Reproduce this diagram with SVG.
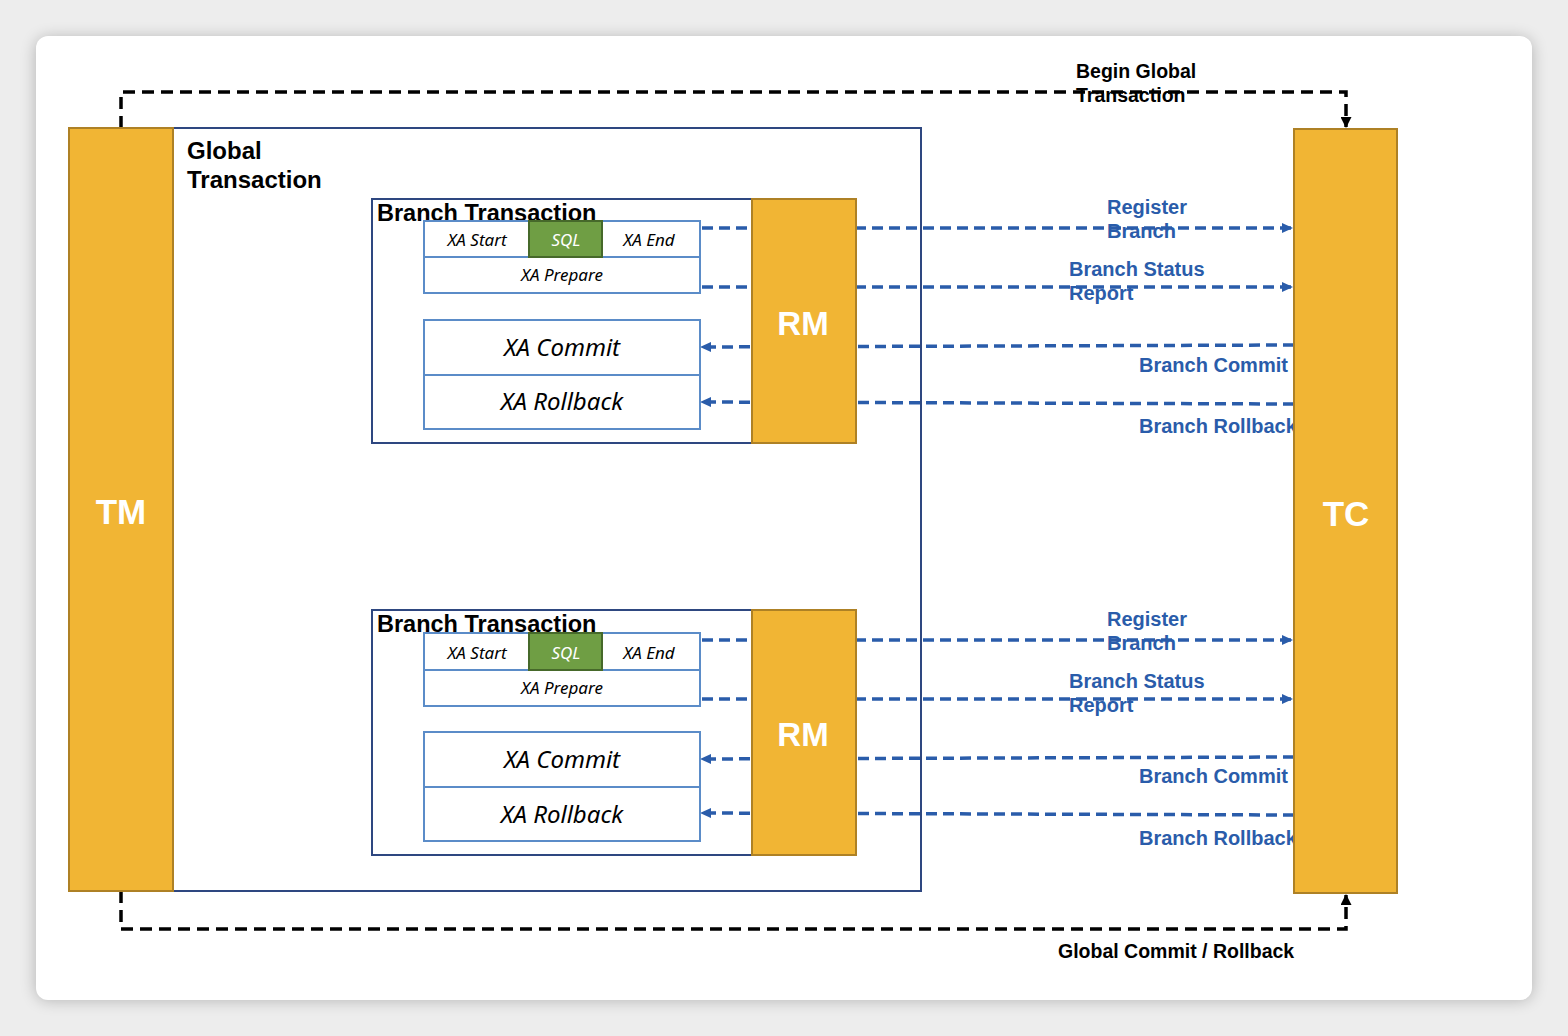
<svg xmlns="http://www.w3.org/2000/svg" width="1568" height="1036" viewBox="0 0 1568 1036">
<defs>
<filter id="sh" x="-5%" y="-5%" width="110%" height="110%"><feGaussianBlur stdDeviation="8"/></filter>
<marker id="ab" markerWidth="11" markerHeight="10" refX="10" refY="5" orient="auto" markerUnits="userSpaceOnUse"><path d="M0,0 L11,5 L0,10 z" fill="#2A5CAA"/></marker>
<marker id="ak" markerWidth="11" markerHeight="11" refX="10" refY="5.5" orient="auto" markerUnits="userSpaceOnUse"><path d="M0,0 L11,5.5 L0,11 z" fill="#000"/></marker>
<style>
.bar{fill:#F1B534;stroke:#AE8125;stroke-width:2}
.frame{fill:none;stroke:#2E4780;stroke-width:2}
.cell{fill:#fff;stroke:#5B8CC8;stroke-width:2}
.sql{fill:#6F9E44;stroke:#46692A;stroke-width:2}
.big{font-family:"Liberation Sans",Arial,sans-serif;font-weight:bold;fill:#fff;text-anchor:middle}
.title{font-family:"Liberation Sans",Arial,sans-serif;font-weight:bold;fill:#000}
.xa{font-family:"Noto Sans","Open Sans",sans-serif;font-style:italic;fill:#000;text-anchor:middle}
.lbl{font-family:"Liberation Sans",Arial,sans-serif;font-weight:bold;fill:#2A5CAA;font-size:20px}
.blab{font-family:"Liberation Sans",Arial,sans-serif;font-weight:bold;fill:#000;font-size:19.5px}
.bd{fill:none;stroke:#2A5CAA;stroke-width:3.5;stroke-dasharray:11,6}
.kd{fill:none;stroke:#000;stroke-width:3.5;stroke-dasharray:12,7}
</style>
</defs>
<rect width="1568" height="1036" fill="#EDEDED"/>
<rect x="36" y="38" width="1496" height="962" rx="12" fill="#000" opacity="0.25" filter="url(#sh)"/>
<rect x="36" y="36" width="1496" height="964" rx="12" fill="#fff"/>

<g id="connectors">
<path class="kd" d="M121,128 V92 H1346 V127" marker-end="url(#ak)"/>
<path class="kd" d="M121,891 V929 H1346 V895" marker-end="url(#ak)"/>
<text class="blab" x="1076" y="78">Begin Global</text>
<text class="blab" x="1076" y="102">Transaction</text>
<text class="blab" x="1058" y="958">Global Commit / Rollback</text>

<path class="bd" d="M702,228 H1292" marker-end="url(#ab)"/>
<path class="bd" d="M702,287 H1292" marker-end="url(#ab)"/>
<path class="bd" d="M1294,345 L701,347" marker-end="url(#ab)"/>
<path class="bd" d="M1294,404 L701,402" marker-end="url(#ab)"/>
<text class="lbl" x="1107" y="214">Register</text>
<text class="lbl" x="1107" y="238">Branch</text>
<text class="lbl" x="1069" y="276">Branch Status</text>
<text class="lbl" x="1069" y="300">Report</text>
<text class="lbl" x="1139" y="372">Branch Commit</text>
<text class="lbl" x="1139" y="433">Branch Rollback</text>

<path class="bd" d="M702,640 H1292" marker-end="url(#ab)"/>
<path class="bd" d="M702,699 H1292" marker-end="url(#ab)"/>
<path class="bd" d="M1294,757 L701,759" marker-end="url(#ab)"/>
<path class="bd" d="M1294,815 L701,813" marker-end="url(#ab)"/>
<text class="lbl" x="1107" y="626">Register</text>
<text class="lbl" x="1107" y="650">Branch</text>
<text class="lbl" x="1069" y="688">Branch Status</text>
<text class="lbl" x="1069" y="712">Report</text>
<text class="lbl" x="1139" y="783">Branch Commit</text>
<text class="lbl" x="1139" y="845">Branch Rollback</text>
</g>

<g id="global-transaction">
<rect class="frame" x="173" y="128" width="748" height="763"/>
<text class="title" font-size="24" x="187" y="159">Global</text>
<text class="title" font-size="24" x="187" y="188">Transaction</text>
</g>

<g id="tm"><rect class="bar" x="69" y="128" width="104" height="763"/><text class="big" font-size="35" x="121" y="524">TM</text></g>
<g id="tc"><rect class="bar" x="1294" y="129" width="103" height="764"/><text class="big" font-size="35" x="1346" y="526">TC</text></g>

<g id="branch1">
<rect class="frame" x="372" y="199" width="380" height="244"/>
<text class="title" font-size="23.5" x="377" y="221">Branch Transaction</text>
<rect class="cell" x="424" y="221" width="276" height="72"/>
<line class="cell" x1="424" y1="257" x2="700" y2="257"/>
<rect class="sql" x="529" y="221" width="73" height="36"/>
<text class="xa" font-size="17" x="477" y="246">XA Start</text>
<text class="xa" font-size="17" x="566" y="246" style="fill:#fff">SQL</text>
<text class="xa" font-size="17" x="649" y="246">XA End</text>
<text class="xa" font-size="17" x="562" y="281">XA Prepare</text>
<rect class="cell" x="424" y="320" width="276" height="109"/>
<line class="cell" x1="424" y1="375" x2="700" y2="375"/>
<text class="xa" font-size="24" x="562" y="356">XA Commit</text>
<text class="xa" font-size="24" x="562" y="410">XA Rollback</text>
</g>
<g id="rm1"><rect class="bar" x="752" y="199" width="104" height="244"/><text class="big" font-size="33" x="803" y="335">RM</text></g>

<g id="branch2">
<rect class="frame" x="372" y="610" width="380" height="245"/>
<text class="title" font-size="23.5" x="377" y="632">Branch Transaction</text>
<rect class="cell" x="424" y="633" width="276" height="73"/>
<line class="cell" x1="424" y1="670" x2="700" y2="670"/>
<rect class="sql" x="529" y="633" width="73" height="37"/>
<text class="xa" font-size="17" x="477" y="659">XA Start</text>
<text class="xa" font-size="17" x="566" y="659" style="fill:#fff">SQL</text>
<text class="xa" font-size="17" x="649" y="659">XA End</text>
<text class="xa" font-size="17" x="562" y="694">XA Prepare</text>
<rect class="cell" x="424" y="732" width="276" height="109"/>
<line class="cell" x1="424" y1="787" x2="700" y2="787"/>
<text class="xa" font-size="24" x="562" y="768">XA Commit</text>
<text class="xa" font-size="24" x="562" y="823">XA Rollback</text>
</g>
<g id="rm2"><rect class="bar" x="752" y="610" width="104" height="245"/><text class="big" font-size="33" x="803" y="746">RM</text></g>
</svg>
